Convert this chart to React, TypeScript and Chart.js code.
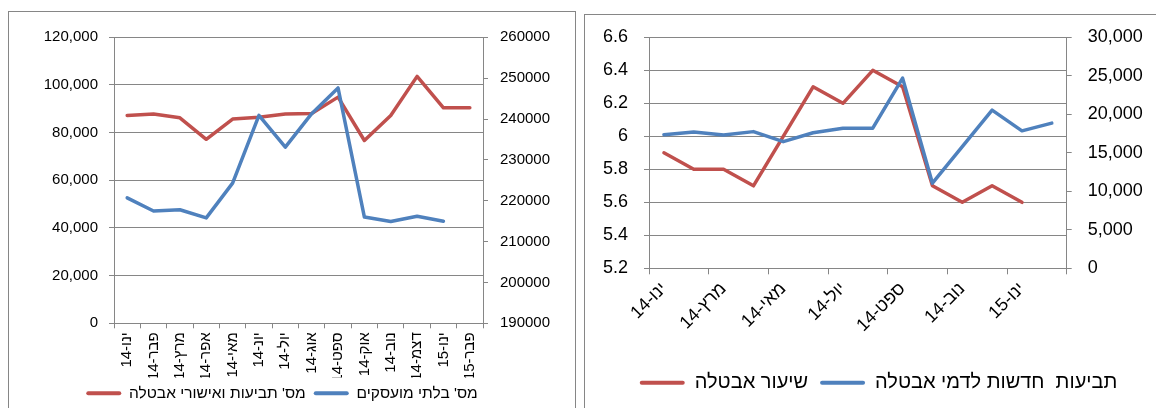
import React, { useEffect, useRef } from 'react';
import { Chart, registerables } from 'chart.js';

Chart.register(...registerables);

// ---------- data ----------
const categories = [
  'ינו-14', 'פבר-14', 'מרץ-14', 'אפר-14', 'מאי-14', 'יונ-14', 'יול-14',
  'אוג-14', 'ספט-14', 'אוק-14', 'נוב-14', 'דצמ-14', 'ינו-15', 'פבר-15',
];

// left chart
const claimsApprovalsLabel = "מס' תביעות ואישורי אבטלה";
const claimsApprovals = [87200, 87800, 86200, 77200, 85700, 86500, 87800, 88000, 94900, 76700, 87200, 103600, 90400, 90400];
const unemployedLabel = "מס' בלתי מועסקים";
const unemployed = [220700, 217500, 217800, 215800, 224300, 240900, 233100, 241300, 247600, 216000, 214900, 216200, 215000, null];
const leftAxisTicks = [0, 20000, 40000, 60000, 80000, 100000, 120000];
const rightAxisTicks = [190000, 200000, 210000, 220000, 230000, 240000, 250000, 260000];

// right chart
const rateLabel = 'שיעור אבטלה';
const unemploymentRate = [5.9, 5.8, 5.8, 5.7, 6.0, 6.3, 6.2, 6.4, 6.3, 5.7, 5.6, 5.7, 5.6, null];
const newClaimsLabel = 'תביעות  חדשות לדמי אבטלה';
const newClaims = [17350, 17700, 17300, 17750, 16450, 17600, 18200, 18200, 24700, 11050, 15800, 20550, 17850, 18850];
const rateTicks = [5.2, 5.4, 5.6, 5.8, 6, 6.2, 6.4, 6.6];
const claimsTicks = [0, 5000, 10000, 15000, 20000, 25000, 30000];

// ---------- styles ----------
const RED = '#C0504D';
const BLUE = '#4F81BD';
const GRID = '#868686';
const FAMILY = '"Liberation Sans", "DejaVu Sans", Arial, sans-serif';

const fmtComma = (v: number) => Number(v).toLocaleString('en-US');

const setTicks = (arr: number[]) => (scale: any) => {
  scale.ticks = arr.map((v) => ({ value: v }));
};

const fixY = (w: number) => (s: any) => {
  s.width = w;
  s.paddingTop = 0;
  s.paddingBottom = 0;
};

const legendLabels = (chart: any) =>
  chart.data.datasets.map((ds: any, i: number) => ({
    text: ds.label,
    fillStyle: ds.borderColor,
    strokeStyle: ds.borderColor,
    lineWidth: 0,
    hidden: false,
    datasetIndex: i,
    fontColor: '#000',
    borderRadius: 2,
  }));

const lineDs = (label: string, data: any[], color: string, axis: string, order: number) => ({
  label,
  data,
  borderColor: color,
  backgroundColor: color,
  borderWidth: 3.5,
  pointRadius: 0,
  pointHoverRadius: 0,
  tension: 0,
  fill: false,
  borderJoinStyle: 'round',
  borderCapStyle: 'round',
  yAxisID: axis,
  order,
});

function leftConfig(): any {
  const font = { size: 15, family: FAMILY };
  return {
    type: 'line',
    data: {
      labels: categories,
      datasets: [
        lineDs(claimsApprovalsLabel, claimsApprovals, RED, 'y', 1),
        lineDs(unemployedLabel, unemployed, BLUE, 'y1', 0),
      ],
    },
    options: {
      animation: false,
      responsive: false,
      maintainAspectRatio: false,
      events: [],
      layout: { padding: { left: 0, right: 20, top: 25.3, bottom: -3 } },
      plugins: {
        legend: {
          position: 'bottom',
          labels: {
            boxWidth: 35,
            boxHeight: 4,
            padding: 8,
            color: '#000',
            font: { size: 15.5, family: FAMILY },
            generateLabels: legendLabels,
          },
        },
        tooltip: { enabled: false },
      },
      scales: {
        x: {
          type: 'category',
          offset: true,
          grid: { offset: true, drawOnChartArea: false, drawTicks: true, tickLength: 5, color: GRID },
          border: { display: true, color: GRID },
          ticks: { autoSkip: false, minRotation: 90, maxRotation: 90, padding: 4, color: '#000', font },
          afterFit: (s: any) => { s.height = 54.2; },
        },
        y: {
          position: 'left',
          min: leftAxisTicks[0],
          max: leftAxisTicks[leftAxisTicks.length - 1],
          afterBuildTicks: setTicks(leftAxisTicks),
          grid: { color: GRID, tickLength: 5 },
          border: { display: true, color: GRID },
          ticks: { color: '#000', font, padding: 11, callback: (v: any) => fmtComma(v) },
          afterFit: fixY(105),
        },
        y1: {
          position: 'right',
          min: rightAxisTicks[0],
          max: rightAxisTicks[rightAxisTicks.length - 1],
          afterBuildTicks: setTicks(rightAxisTicks),
          grid: { drawOnChartArea: false, color: GRID, tickLength: 5 },
          border: { display: true, color: GRID },
          ticks: { color: '#000', font, padding: 12, callback: (v: any) => String(v) },
          afterFit: fixY(72),
        },
      },
    },
  };
}

function rightConfig(): any {
  const font = { size: 18, family: FAMILY };
  return {
    type: 'line',
    data: {
      labels: categories,
      datasets: [
        lineDs(rateLabel, unemploymentRate, RED, 'y', 1),
        lineDs(newClaimsLabel, newClaims, BLUE, 'y1', 0),
      ],
    },
    options: {
      animation: false,
      responsive: false,
      maintainAspectRatio: false,
      events: [],
      layout: { padding: { left: 16, right: 0, top: 22.3, bottom: 5.3 } },
      plugins: {
        legend: {
          position: 'bottom',
          labels: {
            boxWidth: 45,
            boxHeight: 4,
            padding: 12,
            color: '#000',
            font: { size: 20, family: FAMILY },
            generateLabels: legendLabels,
          },
        },
        tooltip: { enabled: false },
      },
      scales: {
        x: {
          type: 'category',
          offset: true,
          grid: {
            offset: true,
            drawOnChartArea: false,
            drawTicks: true,
            tickLength: 6,
            color: (ctx: any) =>
              ctx.index === undefined || ctx.index % 2 === 0 ? GRID : 'rgba(0,0,0,0)',
          },
          border: { display: true, color: GRID },
          ticks: {
            autoSkip: false,
            minRotation: 45,
            maxRotation: 45,
            padding: 4,
            color: '#000',
            font,
            callback: (_v: any, i: number) => (i % 2 === 0 ? categories[i] : ''),
          },
          afterFit: (s: any) => { s.height = 92.4; },
        },
        y: {
          position: 'left',
          min: rateTicks[0],
          max: rateTicks[rateTicks.length - 1],
          afterBuildTicks: setTicks(rateTicks),
          grid: { color: GRID, tickLength: 5 },
          border: { display: true, color: GRID },
          ticks: { color: '#000', font, padding: 16, callback: (v: any) => String(Math.round(v * 10) / 10) },
          afterFit: fixY(48),
        },
        y1: {
          position: 'right',
          min: claimsTicks[0],
          max: claimsTicks[claimsTicks.length - 1],
          afterBuildTicks: setTicks(claimsTicks),
          grid: { drawOnChartArea: false, color: GRID, tickLength: 5 },
          border: { display: true, color: GRID },
          ticks: { color: '#000', font, padding: 16, callback: (v: any) => fmtComma(v) },
          afterFit: fixY(89.3),
        },
      },
    },
  };
}

function ChartCanvas({ config, left, top, width, height }: any) {
  const ref = useRef<HTMLCanvasElement | null>(null);
  useEffect(() => {
    if (!ref.current) return;
    const chart = new Chart(ref.current, config());
    return () => chart.destroy();
  }, []);
  return (
    <canvas
      ref={ref}
      width={width}
      height={height}
      style={{ position: 'absolute', left, top, width, height }}
    />
  );
}

export default function App() {
  return (
    <div style={{ position: 'fixed', left: 0, top: 0, width: 1156, height: 408, overflow: 'hidden', background: '#fff' }}>
      <div
        style={{
          position: 'absolute', left: 8, top: 11, width: 566, height: 397,
          borderLeft: `1px solid ${GRID}`, borderTop: `1px solid ${GRID}`, borderRight: `1px solid ${GRID}`,
        }}
      />
      <div
        style={{
          position: 'absolute', left: 584, top: 14, width: 572, height: 394,
          borderLeft: `1px solid ${GRID}`, borderTop: `1px solid ${GRID}`,
        }}
      />
      <ChartCanvas config={leftConfig} left={9} top={12} width={566} height={396} />
      <ChartCanvas config={rightConfig} left={585} top={15} width={571} height={393} />
    </div>
  );
}
